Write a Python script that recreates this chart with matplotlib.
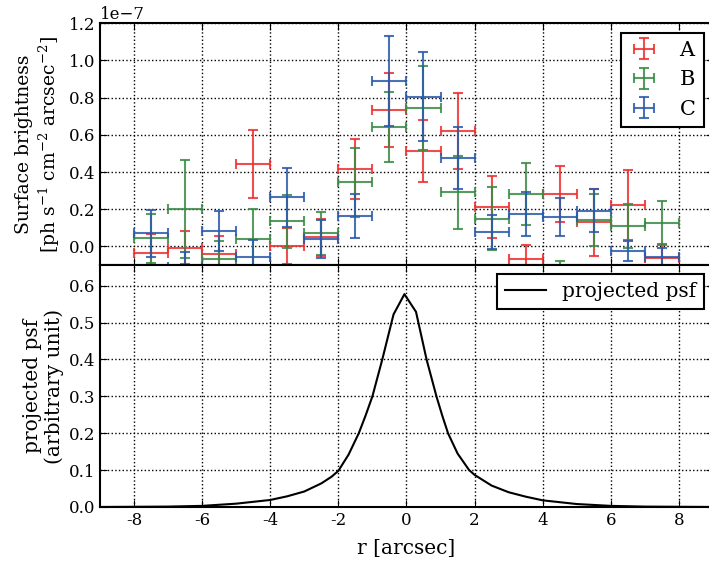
import numpy as np
import matplotlib
matplotlib.use("Agg")
import matplotlib.pyplot as plt

plt.rcParams['font.family'] = ['DejaVu Serif']
plt.rcParams['mathtext.fontset'] = 'dejavuserif'
plt.rcParams['axes.linewidth'] = 1.5
plt.rcParams['xtick.direction'] = 'in'
plt.rcParams['ytick.direction'] = 'in'
plt.rcParams['xtick.top'] = True
plt.rcParams['ytick.right'] = True
plt.rcParams['xtick.major.size'] = 5
plt.rcParams['ytick.major.size'] = 5
plt.rcParams['legend.fancybox'] = False
plt.rcParams['legend.framealpha'] = 1.0
plt.rcParams['legend.edgecolor'] = 'black'

# radial bins [arcsec], half width 0.5
r_bins = np.arange(-7.5, 8.0, 1.0)
r_halfwidth = 0.5

# surface brightness in units of 1e-7 ph s^-1 cm^-2 arcsec^-2
sb_A = [-0.033, -0.007, -0.043, 0.443, 0.002, 0.048, 0.416, 0.735,
        0.513, 0.621, 0.213, -0.070, 0.280, 0.129, 0.222, -0.061]
err_A = [0.100, 0.090, 0.098, 0.181, 0.096, 0.099, 0.163, 0.200,
         0.168, 0.204, 0.167, 0.079, 0.151, 0.180, 0.188, 0.072]
sb_B = [0.043, 0.201, -0.067, 0.041, 0.134, 0.070, 0.344, 0.644,
        0.744, 0.290, 0.149, 0.283, -0.160, 0.142, 0.109, 0.127]
err_B = [0.134, 0.263, 0.097, 0.158, 0.140, 0.117, 0.186, 0.188,
         0.227, 0.197, 0.170, 0.167, 0.080, 0.138, 0.118, 0.117]
sb_C = [0.070, -0.110, 0.082, -0.059, 0.264, 0.038, 0.165, 0.890,
        0.805, 0.477, 0.077, 0.172, 0.156, 0.192, -0.024, -0.056]
err_C = [0.125, 0.078, 0.107, 0.093, 0.159, 0.102, 0.118, 0.244,
         0.238, 0.167, 0.093, 0.118, 0.102, 0.116, 0.054, 0.048]

# projected psf profile
psf_r = [-9.0, -8.0, -7.0, -6.0, -5.0, -4.0, -3.5, -3.0, -2.5, -2.2,
         -2.0, -1.7, -1.4, -1.2, -1.0, -0.71, -0.38, -0.06, 0.28, 0.59,
         0.88, 1.05, 1.22, 1.5, 1.84, 2.0, 2.5, 3.0, 3.5, 4.0,
         5.0, 6.0, 7.0, 8.0, 9.0]
psf_val = [0.0, 0.0005, 0.001, 0.003, 0.009, 0.019, 0.029, 0.042, 0.064, 0.082,
           0.098, 0.142, 0.200, 0.248, 0.300, 0.400, 0.522, 0.577, 0.529, 0.400,
           0.300, 0.248, 0.200, 0.145, 0.100, 0.087, 0.058, 0.040, 0.028, 0.018,
           0.008, 0.003, 0.001, 0.0005, 0.0]

series = [('A', sb_A, err_A, '#ee2f2f'),
          ('B', sb_B, err_B, '#3a8a45'),
          ('C', sb_C, err_C, '#2a5aab')]

xticks = np.arange(-8, 9, 2)

fig = plt.figure(figsize=(7.09, 5.63), dpi=100)
ax1 = fig.add_axes([0.1410, 0.5293, 0.8646, 0.4293])
ax2 = fig.add_axes([0.1410, 0.0995, 0.8646, 0.4298], sharex=ax1)

for name, sb, err, col in series:
    ax1.errorbar(r_bins, np.array(sb) * 1e-7, xerr=r_halfwidth,
                 yerr=np.array(err) * 1e-7, fmt='none', ecolor=col,
                 elinewidth=1.5, capsize=3.5, capthick=1.5, alpha=0.85,
                 label=name)

ax1.set_xlim(-9, 9)
ax1.set_ylim(-0.1e-7, 1.2e-7)
ax1.set_yticks(np.arange(0, 1.21, 0.2) * 1e-7)
ax1.tick_params(labelbottom=False, labelsize=12)
ax1.grid(True, color='black', linestyle=':', linewidth=1)
ax1.yaxis.get_offset_text().set_fontsize(12)
ax1.set_ylabel('Surface brightness\n'
               r'[ph s$^{-1}$ cm$^{-2}$ arcsec$^{-2}$]', fontsize=13.5,
               labelpad=5)
leg1 = ax1.legend(loc='upper right', fontsize=15, handlelength=1.4,
                  handletextpad=1.0, labelspacing=0.5, borderaxespad=0.45)
leg1.get_frame().set_linewidth(1.5)

ax2.plot(psf_r, psf_val, color='black', linewidth=1.5, label='projected psf')
ax2.set_ylim(0, 0.656)
ax2.set_yticks(np.arange(0, 0.61, 0.1))
ax2.set_xticks(xticks)
ax2.set_xticklabels([f'{t:d}' for t in xticks])
ax2.tick_params(labelsize=12)
ax2.grid(True, color='black', linestyle=':', linewidth=1)
ax2.set_xlabel('r [arcsec]', fontsize=14.5, labelpad=7)
ax2.set_ylabel('projected psf\n(arbitrary unit)', fontsize=14.5, labelpad=3)
leg2 = ax2.legend(loc='upper right', fontsize=14.5, borderaxespad=0.45)
leg2.get_frame().set_linewidth(1.5)

fig.savefig('out.png', dpi=100)
